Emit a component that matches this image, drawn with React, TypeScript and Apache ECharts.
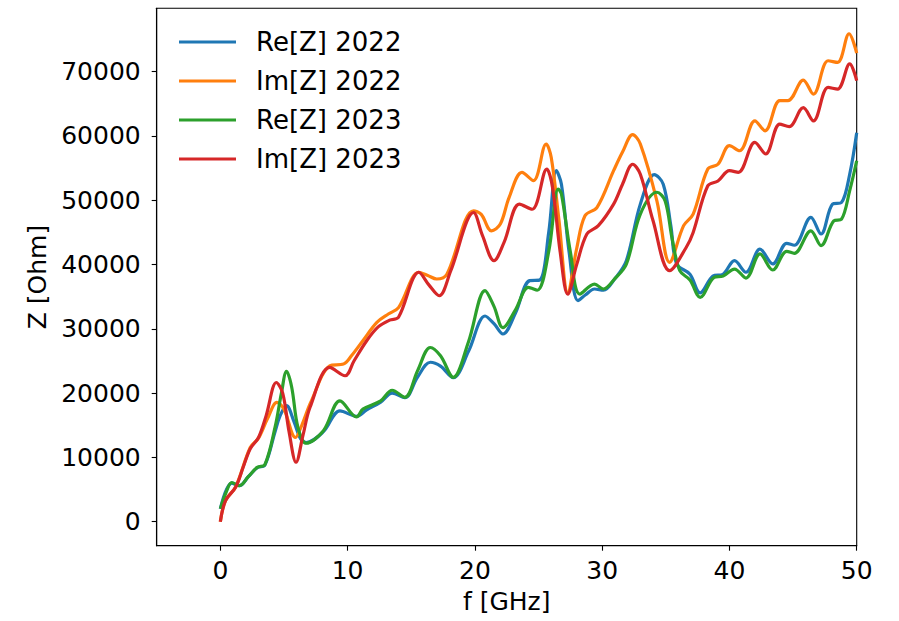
import React, { useEffect, useRef } from "react";
import * as echarts from "echarts";

const xTicks = [0, 10, 20, 30, 40, 50];
const yTicks = [0, 10000, 20000, 30000, 40000, 50000, 60000, 70000];

const reZ2022F = [0, 0.9, 1.5, 2.2, 2.9, 3.5, 4.3, 4.7, 5.2, 5.8, 6.3, 6.75, 8.1, 9.4, 10.7, 11.5, 12.6, 13.5, 14.5, 15.5, 16.5, 17.3, 18.3, 19.5, 20.8, 21.5, 22.2, 23.2, 24.3, 25.1, 25.8, 26.4, 26.8, 27.4, 28.1, 28.7, 29.4, 30.1, 31, 31.9, 33, 34.1, 34.8, 35.4, 35.85, 36.9, 37.7, 38.7, 39.5, 40.4, 41.3, 42.4, 43.4, 44.5, 45.1, 46.4, 47.2, 48.1, 48.8, 49.45, 50];
const reZ2022 = [2000, 6000, 5600, 7000, 8400, 8800, 14000, 16500, 18050, 15500, 12900, 12300, 14000, 17250, 16400, 17400, 18600, 20000, 19300, 22500, 24800, 24200, 22400, 26500, 32000, 30800, 29200, 32500, 37500, 37600, 45000, 54600, 52500, 42000, 34400, 35300, 36200, 36000, 37800, 40600, 49400, 54000, 52500, 46000, 40100, 38500, 35600, 38200, 38500, 40600, 38800, 42400, 40100, 43300, 43000, 47350, 44750, 49400, 49650, 54050, 60500];

const imZ2022F = [0, 0.4, 1.2, 2.35, 3.0, 3.7, 4.45, 5.0, 5.9, 6.4, 7.1, 8.6, 9.7, 10.3, 11.2, 12.3, 13.2, 14, 15.6, 16.3, 17, 17.8, 19.9, 20.5, 21.3, 22, 22.7, 23.7, 24.6, 25.6, 26, 26.6, 27.3, 28.0, 28.65, 29.6, 30.9, 31.6, 32.4, 33, 34.3, 35.3, 36.4, 37.15, 38.3, 39.1, 40, 40.8, 42, 42.8, 43.95, 44.6, 45.8, 46.6, 47.75, 48.5, 49.4, 50];
const imZ2022 = [0, 3300, 5400, 11550, 13000, 16000, 18550, 17500, 13100, 15000, 18550, 24250, 24550, 25800, 28150, 31000, 32300, 33300, 38800, 38300, 37750, 38500, 48350, 47800, 45250, 46300, 50500, 54350, 53050, 58750, 56650, 47000, 35650, 42500, 47600, 48900, 54600, 57500, 60200, 58750, 49900, 40350, 46050, 47850, 54850, 55600, 58500, 57700, 62350, 60800, 65500, 65500, 68700, 66500, 71700, 71450, 75900, 72900];

const reZ2023F = [0, 0.5, 0.9, 1.5, 2.2, 2.9, 3.5, 4.3, 4.8, 5.2, 5.6, 6.1, 6.75, 8.1, 9.4, 10.7, 11.2, 12.6, 13.5, 14.5, 15.5, 16.5, 17.3, 18.3, 19.5, 20.8, 21.5, 22.2, 23.2, 24.2, 24.9, 25.8, 26.55, 26.8, 27.5, 28.25, 29.4, 30.1, 31, 31.9, 33, 34.3, 34.95, 35.5, 36.1, 36.9, 37.7, 38.8, 39.5, 40.4, 41.3, 42.4, 43.4, 44.5, 45.1, 46.4, 47.2, 48.2, 48.8, 49.45, 50];
const reZ2023 = [2000, 4800, 6100, 5600, 7000, 8450, 8870, 14700, 20000, 23400, 21000, 14650, 12200, 14150, 18800, 16300, 17500, 18800, 20450, 19350, 23500, 27100, 25800, 22450, 28000, 35950, 33500, 30200, 33000, 36450, 36000, 42000, 51750, 51000, 42000, 35400, 36950, 36200, 37800, 40050, 47850, 51250, 49900, 44000, 39050, 37600, 34900, 38000, 38200, 39300, 37900, 41650, 39150, 42050, 41750, 45250, 42950, 46800, 47050, 51500, 56150];

const imZ2023F = [0, 0.4, 1.2, 1.8, 2.35, 3.0, 3.6, 4.4, 4.9, 5.4, 5.95, 6.5, 7.05, 8.6, 9.8, 10.5, 11.5, 12.4, 13.3, 14, 15.6, 16.4, 17.2, 18.1, 19.9, 20.6, 21.5, 22.3, 23.5, 24.5, 25.65, 26.1, 26.7, 27.3, 28.0, 28.8, 29.7, 30.9, 31.6, 32.4, 33, 34, 35.3, 36.6, 37.15, 38.3, 39.1, 40, 40.7, 42, 42.85, 43.95, 44.7, 45.8, 46.6, 47.75, 48.5, 49.45, 50];
const imZ2023 = [0, 3250, 5350, 8500, 11350, 13100, 16500, 21650, 20000, 14000, 9250, 13500, 17800, 24000, 22700, 25000, 28150, 30300, 31350, 31800, 38800, 36800, 35150, 39000, 48100, 44500, 40600, 43500, 49400, 48600, 54850, 52000, 42000, 35400, 40000, 44750, 46050, 49400, 52500, 55600, 54050, 46800, 39050, 42650, 45000, 52250, 53000, 54600, 54350, 59000, 57200, 61850, 61450, 64400, 62350, 67550, 67300, 71200, 68600];

const seriesNames = ["Re[Z] 2022", "Im[Z] 2022", "Re[Z] 2023", "Im[Z] 2023"];
const colors = ["#1f77b4", "#ff7f0e", "#2ca02c", "#d62728"];

const zip = (xs: number[], ys: number[]) => xs.map((x, i) => [x, ys[i]]);

export default function App() {
  const ref = useRef<HTMLDivElement>(null);
  useEffect(() => {
    if (!ref.current) return;
    const chart = echarts.init(ref.current, null, { renderer: "svg" });
    const font = "DejaVu Sans";
    const datasets = [
      zip(reZ2022F, reZ2022),
      zip(imZ2022F, imZ2022),
      zip(reZ2023F, reZ2023),
      zip(imZ2023F, imZ2023),
    ];
    chart.setOption({
      animation: false,
      backgroundColor: "#ffffff",
      textStyle: { fontFamily: font },
      grid: {
        left: 156.7,
        top: 8.3,
        width: 700,
        height: 537.4,
        show: true,
        borderColor: "#000",
        borderWidth: 1.1,
        backgroundColor: "transparent",
      },
      legend: {
        data: seriesNames,
        orient: "vertical",
        left: 179,
        top: 29,
        icon: "rect",
        itemWidth: 57,
        itemHeight: 3,
        itemGap: 13,
        textStyle: { fontFamily: font, fontSize: 26, color: "#000", lineHeight: 26, padding: [0, 0, 0, 15] },
        padding: 0,
      },
      xAxis: {
        type: "value",
        min: -5,
        max: 50,
        name: "f [GHz]",
        nameLocation: "middle",
        nameGap: 43,
        nameTextStyle: { fontFamily: font, fontSize: 25, color: "#000" },
        splitLine: { show: false },
        axisLine: { onZero: false, lineStyle: { color: "#000", width: 1.1 } },
        axisTick: { show: true, length: 5, lineStyle: { color: "#000", width: 1.1 }, customValues: xTicks },
        axisLabel: { fontFamily: font, fontSize: 25, color: "#000", margin: 12, customValues: xTicks, formatter: (v: number) => String(v) },
      },
      yAxis: {
        type: "value",
        min: -3733,
        max: 79860,
        name: "Z [Ohm]",
        nameLocation: "middle",
        nameGap: 99,
        nameTextStyle: { fontFamily: font, fontSize: 25, color: "#000" },
        splitLine: { show: false },
        axisLine: { onZero: false, lineStyle: { color: "#000", width: 1.1 } },
        axisTick: { show: true, length: 5, lineStyle: { color: "#000", width: 1.1 }, customValues: yTicks },
        axisLabel: { fontFamily: font, fontSize: 25, color: "#000", margin: 16, customValues: yTicks, formatter: (v: number) => String(Math.round(v)) },
      },
      series: seriesNames.map((name, i) => ({
        name,
        type: "line",
        data: datasets[i],
        smooth: 0.35,
        showSymbol: false,
        symbol: "none",
        color: colors[i],
        lineStyle: { color: colors[i], width: 3.2 },
        itemStyle: { color: colors[i] },
        z: 2 + i,
      })),
    });
    return () => chart.dispose();
  }, []);
  return <div ref={ref} style={{ width: 899, height: 621, position: "absolute", left: 0, top: 0 }} />;
}
